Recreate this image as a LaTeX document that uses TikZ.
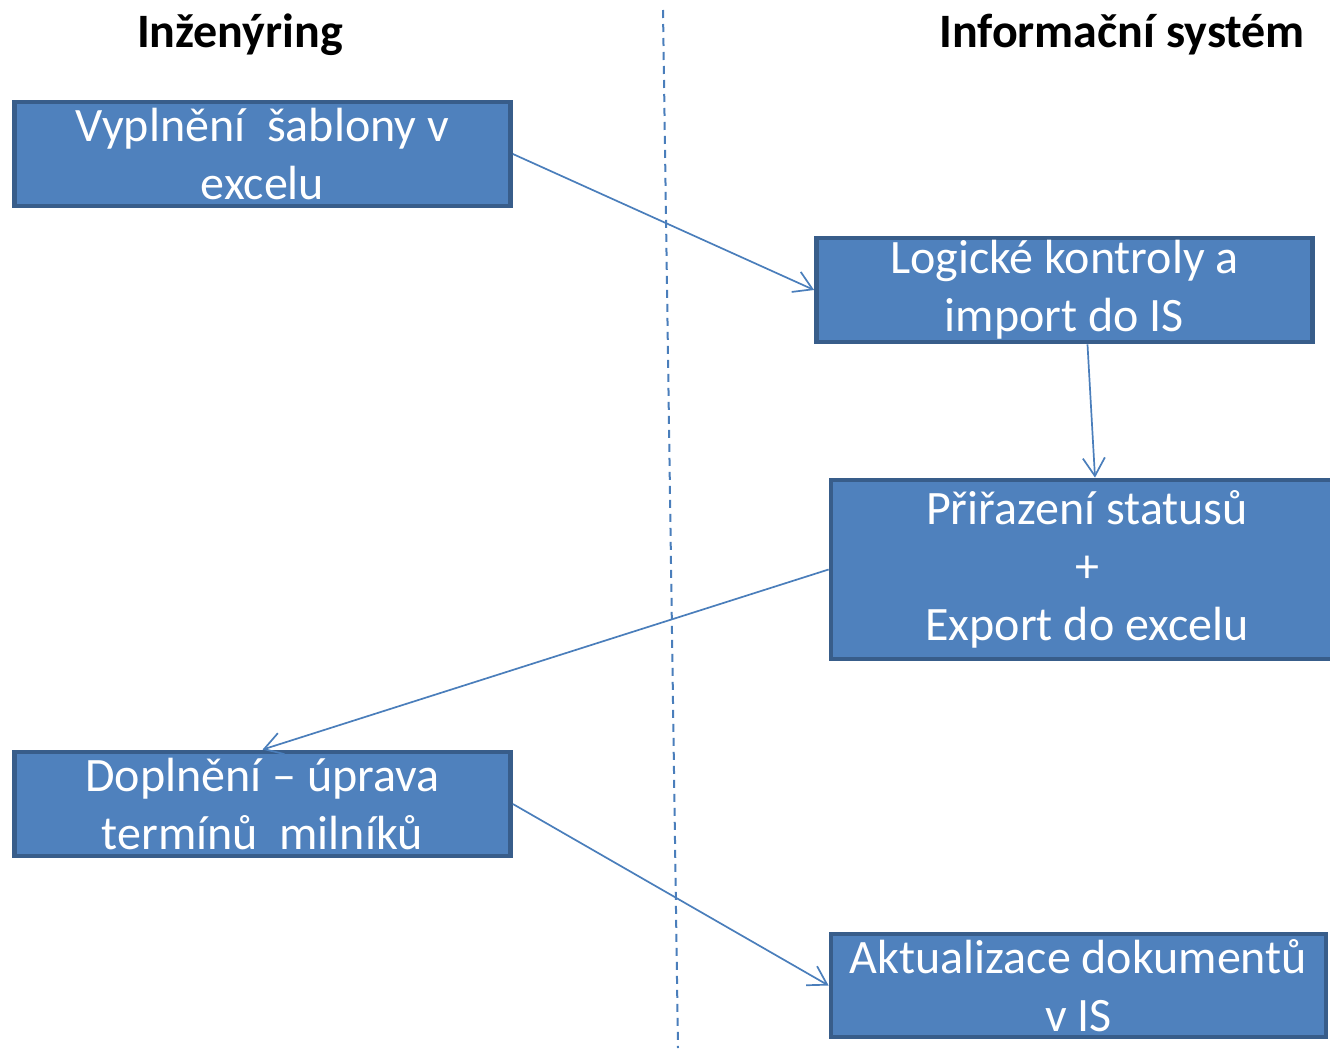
\documentclass[tikz,border=0pt]{standalone}
\usepackage{fontspec}
\setmainfont{Carlito}
\usetikzlibrary{arrows.meta}
\definecolor{boxfill}{HTML}{4F81BD}
\definecolor{boxline}{HTML}{385D8A}
\definecolor{conn}{HTML}{4A7EBB}
\tikzset{
  stepbox/.style={draw=boxline, fill=boxfill, line width=2.4pt, text=white,
    font=\fontsize{24}{29}\selectfont, align=center, inner sep=0pt},
  conarrow/.style={draw=conn, line width=0.85pt, -{Straight Barb[length=9pt,width=11pt]}},
  title/.style={font=\bfseries\fontsize{24}{28}\selectfont, inner sep=0pt},
}
\begin{document}
\begin{tikzpicture}[x=0.5pt,y=-0.5pt]
\useasboundingbox (0,0) rectangle (1330,1050);
\clip (0,0) rectangle (1330,1050);
\node[title] (t1) at (240,35) {Inženýring};
\node[title] (t2) at (1122,35) {Informační systém};
\coordinate (d1) at (663,10);
\coordinate (d2) at (678,1048);
\draw[conn, line width=1pt, dash pattern=on 4pt off 3pt] (d1) -- (d2);
\node[stepbox, minimum width=248pt, minimum height=52pt] (b1) at (262.5,154) {Vyplnění\ \ šablony v\\excelu};
\node[stepbox, minimum width=248pt, minimum height=52pt] (b2) at (1064.5,290) {Logické kontroly a\\import do IS};
\node[stepbox, minimum width=256pt, minimum height=89.5pt] (b3) at (1087,569.5) {Přiřazení statusů\\+\\Export do excelu};
\node[stepbox, minimum width=248pt, minimum height=52pt] (b4) at (262.5,804) {Doplnění – úprava\\termínů\ \ milníků};
\node[stepbox, minimum width=247.5pt, minimum height=51.5pt] (b5) at (1078.5,985.5) {Aktualizace dokumentů\\v IS};
\draw[conarrow] (b1.east) -- (b2.west);
\draw[conarrow] ([xshift=11.5pt]b2.south) -- ([xshift=4pt]b3.north);
\draw[conarrow] (b3.west) -- (b4.north);
\draw[conarrow] (b4.east) -- (b5.west);
\end{tikzpicture}
\end{document}
